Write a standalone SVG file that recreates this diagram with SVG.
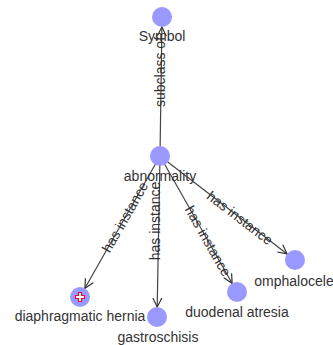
<svg xmlns="http://www.w3.org/2000/svg" width="333" height="345" viewBox="0 0 333 345">
<style>
.edge{stroke:#444;stroke-width:1.2;fill:none}
.node circle{fill:#9999ff}
text{font-family:"Liberation Sans",Arial,sans-serif;font-size:14px;fill:#333}
.nl{text-anchor:middle}
.el{text-anchor:middle}
</style>
<defs>
<marker id="arr" markerUnits="userSpaceOnUse" markerWidth="12" markerHeight="12" refX="10" refY="5" orient="auto" viewBox="0 0 12 10">
<path d="M1,0.5 L10,5 L1,9.5" fill="none" stroke="#333" stroke-width="1.2"/>
</marker>
</defs>
<rect width="333" height="345" fill="#ffffff"/>
<g id="connectors">
<line class="edge" x1="160" y1="156" x2="161.9" y2="27" marker-end="url(#arr)"/>
<line class="edge" x1="160" y1="156" x2="84.9" y2="288.3" marker-end="url(#arr)"/>
<line class="edge" x1="160" y1="156" x2="157.2" y2="307" marker-end="url(#arr)"/>
<line class="edge" x1="160" y1="156" x2="232.1" y2="283.3" marker-end="url(#arr)"/>
<line class="edge" x1="160" y1="156" x2="287.1" y2="253.9" marker-end="url(#arr)"/>
<text class="el" transform="translate(160,72) rotate(-90)" dy="0.35em">subclass of</text>
<text class="el" transform="translate(125,217) rotate(-60.4)" dy="0.35em">has instance</text>
<text class="el" transform="translate(155,221) rotate(-90)" dy="0.35em">has instance</text>
<text class="el" transform="translate(208,241) rotate(60.5)" dy="0.35em">has instance</text>
<text class="el" transform="translate(240,218) rotate(37.6)" dy="0.35em">has instance</text>
</g>
<g id="node-symbol" class="node">
<circle cx="162" cy="17" r="10"/>
<text class="nl" x="162" y="41">Symbol</text>
</g>
<g id="node-abnormality" class="node">
<circle cx="160" cy="156" r="10"/>
<text class="nl" x="160" y="181">abnormality</text>
</g>
<g id="node-diaphragmatic-hernia" class="node">
<circle cx="80" cy="297" r="10"/>
<path d="M78.5,292.5 h3 v3 h3 v3 h-3 v3 h-3 v-3 h-3 v-3 h3 z" fill="#ffffff" stroke="#dd1133" stroke-width="1.2"/>
<text class="nl" x="80" y="321">diaphragmatic hernia</text>
</g>
<g id="node-gastroschisis" class="node">
<circle cx="157" cy="317" r="10"/>
<text class="nl" x="158" y="342">gastroschisis</text>
</g>
<g id="node-duodenal-atresia" class="node">
<circle cx="237" cy="292" r="10"/>
<text class="nl" x="237" y="317">duodenal atresia</text>
</g>
<g id="node-omphalocele" class="node">
<circle cx="295" cy="260" r="10"/>
<text class="nl" x="294" y="286">omphalocele</text>
</g>
</svg>
